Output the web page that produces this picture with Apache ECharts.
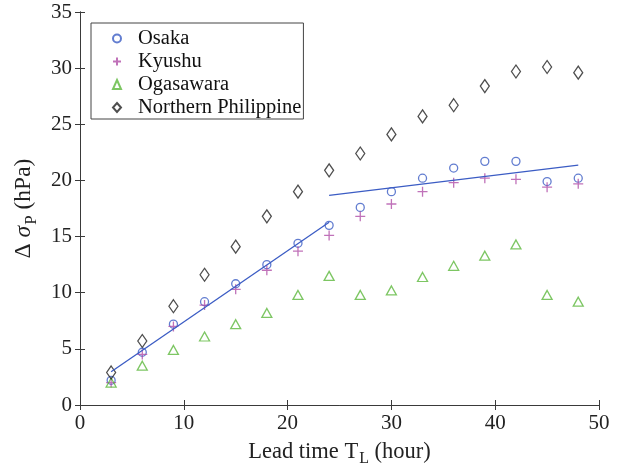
<!DOCTYPE html>
<html>
<head>
<meta charset="utf-8">
<script src="https://cdn.jsdelivr.net/npm/echarts@6/dist/echarts.min.js"></script>
<style>
html, body {margin: 0; background: #fff;}
#main {width: 620px; height: 472px;}
</style>
</head>
<body>
<div id="main"></div>
<script>
// lead time (hour)
var leadTime = [3, 6, 9, 12, 15, 18, 21, 24, 27, 30, 33, 36, 39, 42, 45, 48];
var osaka = [2.2, 4.7, 7.2, 9.2, 10.8, 12.5, 14.4, 16.0, 17.6, 19.0, 20.2, 21.1, 21.7, 21.7, 19.9, 20.2];
var kyushu = [2.0, 4.5, 7.0, 8.9, 10.3, 12.0, 13.7, 15.1, 16.8, 17.9, 19.0, 19.8, 20.2, 20.1, 19.4, 19.7];
var ogasawara = [2.0, 3.5, 4.9, 6.1, 7.2, 8.2, 9.8, 11.5, 9.8, 10.2, 11.4, 12.4, 13.3, 14.3, 9.8, 9.2];
var philippine = [2.9, 5.7, 8.8, 11.6, 14.1, 16.8, 19.0, 20.9, 22.4, 24.1, 25.7, 26.7, 28.4, 29.7, 30.1, 29.6];
// fitted lines for Osaka
var fitEarly = [[3, 2.96], [24, 16.27]];
var fitLate = [[24, 18.67], [48, 21.36]];

var font = 'Liberation Serif';
var axisColor = '#3a3a3a';

function pairs(vals) {
    return leadTime.map(function (t, i) { return [t, vals[i]]; });
}

function hollow(c) {
    return {color: 'rgba(0,0,0,0)', borderColor: c, borderWidth: 1.3};
}

var myChart = echarts.init(document.getElementById('main'));
var option = {
    backgroundColor: '#fff',
    animation: false,
    textStyle: {fontFamily: font},
    grid: {left: 80, right: 21, top: 12, bottom: 66},
    legend: {
        orient: 'vertical',
        left: 91,
        top: 23,
        data: ['Osaka', 'Kyushu', 'Ogasawara', 'Northern Philippine'],
        itemWidth: 8,
        itemHeight: 9,
        itemGap: 2,
        padding: [5, 2, 1, 21],
        borderColor: '#444',
        borderWidth: 1,
        textStyle: {fontFamily: font, fontSize: 20.5, color: '#111', lineHeight: 21, padding: [0, 0, 0, 12]}
    },
    xAxis: [
        {
            type: 'value', min: 0, max: 50, interval: 10,
            name: '{a|Lead time T}{sub|L}{a| (hour)}',
            nameLocation: 'middle',
            nameGap: 32,
            nameTextStyle: {
                rich: {
                    a: {fontFamily: font, fontSize: 22.5, color: '#222'},
                    sub: {fontFamily: font, fontSize: 16, color: '#222', padding: [14, 0, 0, 1]}
                }
            },
            axisLine: {lineStyle: {color: axisColor, width: 1}},
            axisTick: {inside: true, length: 5, lineStyle: {color: axisColor}},
            axisLabel: {fontFamily: font, fontSize: 21, color: '#222', margin: 8},
            splitLine: {show: false}
        },
        {
            type: 'value', min: 0, max: 50, interval: 10, position: 'top',
            axisLine: {lineStyle: {color: axisColor, width: 1}},
            axisTick: {inside: true, length: 5, lineStyle: {color: axisColor}},
            axisLabel: {show: false},
            splitLine: {show: false}
        }
    ],
    yAxis: [
        {
            type: 'value', min: 0, max: 35, interval: 5,
            name: '{a|Δ }{s|σ}{sub|P}{a| (hPa)}',
            nameLocation: 'middle',
            nameGap: 37,
            nameTextStyle: {
                rich: {
                    a: {fontFamily: font, fontSize: 23.5, color: '#222'},
                    s: {fontFamily: font, fontSize: 23.5, fontStyle: 'italic', color: '#222'},
                    sub: {fontFamily: font, fontSize: 17, color: '#222', padding: [15, 0, 0, 1]}
                }
            },
            axisLine: {show: true, lineStyle: {color: axisColor, width: 1}},
            axisTick: {show: true, inside: true, length: 5, lineStyle: {color: axisColor}},
            axisLabel: {fontFamily: font, fontSize: 21, color: '#222', margin: 8},
            splitLine: {show: false}
        },
        {
            type: 'value', min: 0, max: 35, interval: 5, position: 'right',
            axisLine: {show: true, lineStyle: {color: axisColor, width: 1}},
            axisTick: {show: true, inside: true, length: 5, lineStyle: {color: axisColor}},
            axisLabel: {show: false},
            splitLine: {show: false}
        }
    ],
    series: [
        {
            name: 'Osaka', type: 'scatter', symbol: 'circle', symbolSize: 8,
            itemStyle: hollow('#3b5cc4'),
            data: pairs(osaka)
        },
        {
            name: 'Kyushu', type: 'scatter',
            symbol: 'path://M5,0L5,10M0,5L10,5', symbolSize: 10,
            itemStyle: hollow('#b04fa8'),
            data: pairs(kyushu)
        },
        {
            name: 'Ogasawara', type: 'scatter', symbol: 'triangle', symbolSize: [10, 9],
            itemStyle: hollow('#5cb83c'),
            data: pairs(ogasawara)
        },
        {
            name: 'Northern Philippine', type: 'scatter', symbol: 'diamond', symbolSize: [9, 13],
            itemStyle: hollow('#222'),
            data: pairs(philippine)
        },
        {
            name: 'fit1', type: 'line', symbol: 'none',
            lineStyle: {color: '#3b5cc4', width: 1.3},
            data: fitEarly
        },
        {
            name: 'fit2', type: 'line', symbol: 'none',
            lineStyle: {color: '#3b5cc4', width: 1.3},
            data: fitLate
        }
    ]
};

myChart.setOption(option);
</script>
</body>
</html>
